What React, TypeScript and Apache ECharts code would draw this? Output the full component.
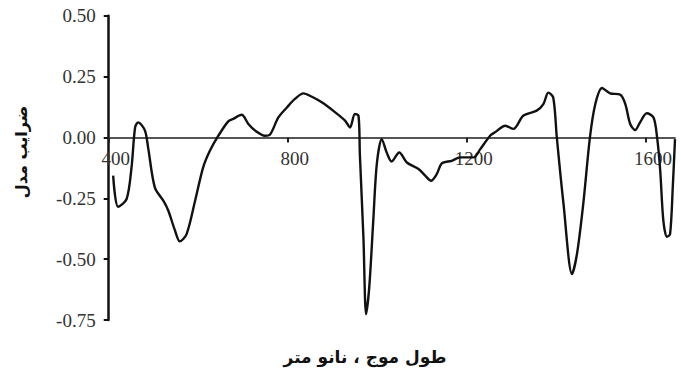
import React, { useEffect, useRef } from "react";
import * as echarts from "echarts";

const wavelengths = [
  410, 421, 440, 451, 459, 466, 481, 488, 503, 522, 533, 548, 559, 574, 593, 611, 626, 645, 667, 678,
  697, 712, 727, 749, 760, 779, 798, 816, 835, 854, 876, 906, 928, 939, 950, 958, 961, 969, 975, 982,
  991, 999, 1010, 1021, 1032, 1049, 1066, 1092, 1107, 1120, 1133, 1144, 1166, 1185, 1215, 1230, 1252, 1263, 1286, 1304,
  1326, 1356, 1371, 1382, 1393, 1401, 1416, 1435, 1446, 1460, 1475, 1487, 1502, 1520, 1543, 1554, 1565, 1576, 1587, 1602,
  1617, 1625, 1632, 1639, 1647, 1654, 1660, 1665,
];
const coefficients = [
  -0.157, -0.285, -0.253, -0.123, 0.041, 0.062, 0.028, -0.041, -0.205, -0.26, -0.3, -0.382, -0.427, -0.397, -0.26, -0.123, -0.055, 0.007, 0.066, 0.076,
  0.093, 0.055, 0.028, 0.007, 0.011, 0.082, 0.123, 0.158, 0.181, 0.167, 0.144, 0.103, 0.069, 0.041, 0.096, 0.089, -0.067, -0.411, -0.726, -0.616,
  -0.342, -0.108, -0.007, -0.062, -0.099, -0.062, -0.103, -0.13, -0.157, -0.178, -0.15, -0.107, -0.096, -0.082, -0.082, -0.048, 0.007, 0.021, 0.048, 0.035,
  0.089, 0.11, 0.137, 0.184, 0.164, 0.0, -0.274, -0.561, -0.479, -0.274, 0.0, 0.137, 0.203, 0.181, 0.175, 0.137, 0.055, 0.03, 0.062, 0.099,
  0.082, 0.0, -0.137, -0.342, -0.408, -0.397, -0.205, -0.007,
];
const xTicks = [400, 800, 1200, 1600];
const yAxisTitle = "ضرایب مدل";
const xAxisTitle = "طول موج ، نانو متر";

const serif = "'Liberation Serif', 'Times New Roman', serif";

export default function App() {
  const ref = useRef<HTMLDivElement>(null);
  useEffect(() => {
    if (!ref.current) return;
    const chart = echarts.init(ref.current, undefined, { renderer: "svg" });
    const data = wavelengths.map((w, i) => [w, coefficients[i]]);
    const top = 15.7;
    const bottom = 49;
    const plotH = 369 - top - bottom;
    // x axis sits on the zero line: offset it up from the grid bottom
    const zeroFromBottom = plotH * (0.75 / 1.25);
    chart.setOption({
      animation: false,
      backgroundColor: "#ffffff",
      grid: { left: 108.7, right: 6, top, bottom, containLabel: false },
      xAxis: {
        type: "value",
        min: 400,
        max: 1665,
        offset: -zeroFromBottom,
        axisLine: { show: true, onZero: false, lineStyle: { color: "#555", width: 2 } },
        axisTick: { show: true, customValues: xTicks, length: 5, lineStyle: { color: "#222", width: 2 } },
        axisLabel: {
          customValues: xTicks,
          margin: 12,
          padding: [0, 0, 0, 14],
          fontFamily: serif,
          fontSize: 19,
          color: "#333",
          formatter: (v: number) => String(v),
        },
        splitLine: { show: false },
      },
      yAxis: {
        type: "value",
        min: -0.75,
        max: 0.5,
        interval: 0.25,
        axisLine: { show: true, onZero: false, lineStyle: { color: "#111", width: 2.5 } },
        axisTick: { show: true, length: 5, lineStyle: { color: "#111", width: 2 } },
        axisLabel: {
          margin: 13,
          fontFamily: serif,
          fontSize: 19,
          color: "#333",
          formatter: (v: number) => v.toFixed(2),
        },
        splitLine: { show: false },
      },
      graphic: [
        {
          type: "text",
          x: 21,
          y: 152,
          rotation: Math.PI / 2,
          style: {
            text: yAxisTitle,
            fontFamily: "DejaVu Sans",
            fontWeight: "bold",
            fontSize: 16,
            fill: "#111",
            textAlign: "center",
            textVerticalAlign: "middle",
          },
        },
        {
          type: "text",
          x: 365,
          y: 357,
          style: {
            text: xAxisTitle,
            fontFamily: "DejaVu Sans",
            fontWeight: "bold",
            fontSize: 17,
            fill: "#111",
            textAlign: "center",
            textVerticalAlign: "middle",
          },
        },
      ],
      series: [
        {
          type: "line",
          data,
          showSymbol: false,
          smooth: 0.3,
          lineStyle: { color: "#111", width: 2.4 },
        },
      ],
    });
    return () => chart.dispose();
  }, []);
  return (
    <div
      ref={ref}
      style={{ position: "fixed", left: 0, top: 0, width: 681, height: 369 }}
    />
  );
}
